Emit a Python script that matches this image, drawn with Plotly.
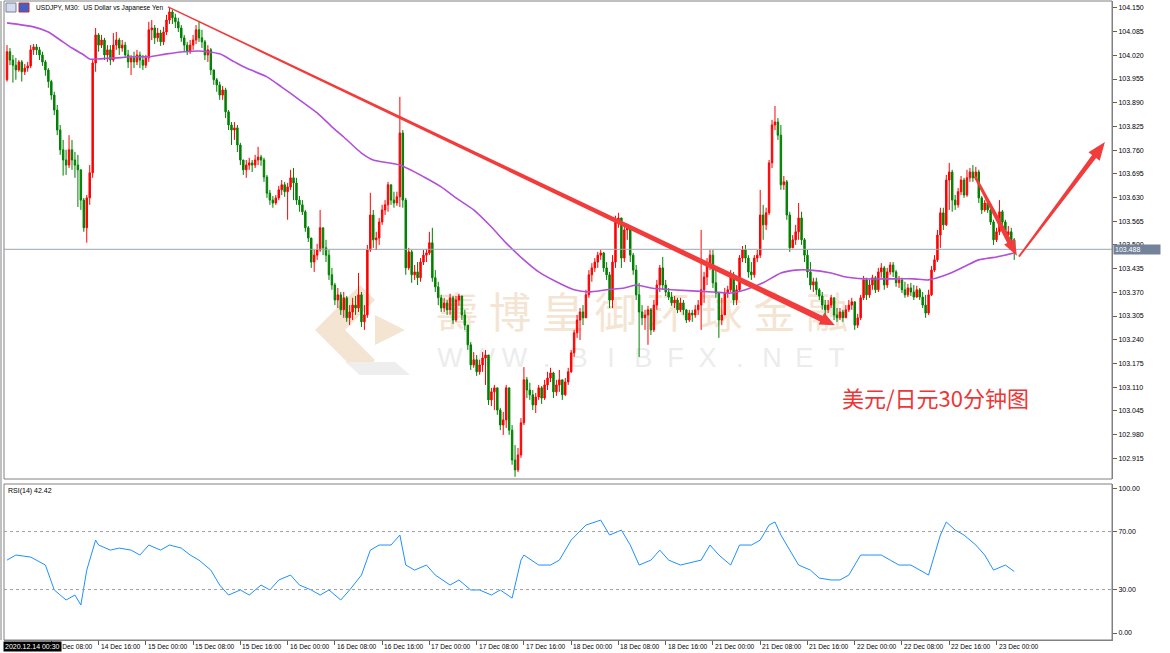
import base64
import plotly.graph_objects as go

# ---- data (USDJPY M30) ----
first_open = 103.953
closes = [
    104.030, 104.007, 103.993, 103.980, 104.002, 103.975, 103.985, 103.991, 104.035, 104.043,
    104.035, 104.021, 104.002, 103.980, 103.948, 103.911, 103.870, 103.815, 103.761, 103.733,
    103.719, 103.761, 103.733, 103.719, 103.706, 103.623, 103.547, 103.629, 103.698, 103.999,
    104.076, 104.048, 104.062, 104.021, 104.035, 104.007, 104.048, 104.062, 104.040, 104.048,
    104.021, 104.002, 104.013, 104.002, 104.021, 104.007, 103.993, 104.013, 104.090, 104.095,
    104.068, 104.081, 104.057, 104.084, 104.117, 104.139, 104.123, 104.112, 104.095, 104.068,
    104.048, 104.030, 104.048, 104.062, 104.090, 104.068, 104.057, 104.021, 104.035, 103.980,
    103.953, 103.939, 103.911, 103.925, 103.865, 103.829, 103.815, 103.821, 103.774, 103.733,
    103.706, 103.719, 103.725, 103.719, 103.733, 103.741, 103.733, 103.686, 103.642, 103.623,
    103.615, 103.629, 103.651, 103.665, 103.646, 103.659, 103.684, 103.670, 103.623, 103.610,
    103.591, 103.547, 103.519, 103.453, 103.472, 103.486, 103.547, 103.492, 103.472, 103.418,
    103.390, 103.349, 103.363, 103.322, 103.355, 103.300, 103.316, 103.335, 103.327, 103.363,
    103.289, 103.308, 103.486, 103.582, 103.514, 103.519, 103.563, 103.596, 103.610, 103.665,
    103.623, 103.615, 103.632, 103.807, 103.623, 103.437, 103.481, 103.418, 103.426, 103.410,
    103.453, 103.472, 103.478, 103.506, 103.410, 103.385, 103.355, 103.327, 103.341, 103.322,
    103.355, 103.294, 103.349, 103.360, 103.308, 103.280, 103.226, 103.171, 103.185, 103.152,
    103.171, 103.190, 103.198, 103.075, 103.097, 103.108, 103.047, 103.006, 103.020, 103.108,
    102.992, 102.910, 102.883, 102.924, 103.012, 103.130, 103.102, 103.089, 103.061, 103.083,
    103.108, 103.080, 103.116, 103.135, 103.149, 103.097, 103.116, 103.130, 103.089, 103.124,
    103.152, 103.204, 103.259, 103.294, 103.316, 103.300, 103.363, 103.418, 103.437, 103.453,
    103.472, 103.478, 103.437, 103.418, 103.349, 103.453, 103.563, 103.574, 103.464, 103.541,
    103.547, 103.472, 103.431, 103.363, 103.316, 103.300, 103.308, 103.322, 103.267, 103.335,
    103.390, 103.437, 103.390, 103.371, 103.357, 103.341, 103.349, 103.322, 103.341, 103.322,
    103.294, 103.313, 103.308, 103.322, 103.335, 103.377, 103.412, 103.450, 103.472, 103.396,
    103.368, 103.294, 103.308, 103.368, 103.377, 103.418, 103.349, 103.377, 103.464, 103.486,
    103.464, 103.426, 103.418, 103.464, 103.472, 103.582, 103.555, 103.588, 103.725, 103.829,
    103.837, 103.801, 103.665, 103.673, 103.582, 103.492, 103.514, 103.536, 103.574, 103.514,
    103.472, 103.426, 103.390, 103.399, 103.377, 103.360, 103.335, 103.322, 103.335, 103.355,
    103.308, 103.300, 103.316, 103.300, 103.322, 103.335, 103.344, 103.280, 103.300, 103.355,
    103.404, 103.363, 103.390, 103.410, 103.377, 103.426, 103.437, 103.390, 103.426, 103.445,
    103.426, 103.396, 103.404, 103.377, 103.363, 103.382, 103.371, 103.357, 103.377, 103.357,
    103.335, 103.313, 103.363, 103.431, 103.459, 103.527, 103.588, 103.555, 103.678, 103.700,
    103.623, 103.610, 103.646, 103.678, 103.637, 103.684, 103.700, 103.684, 103.700, 103.629,
    103.596, 103.615, 103.596, 103.563, 103.514, 103.536, 103.591, 103.563, 103.527, 103.536,
    103.514, 103.488,
]
highs = [
    104.048, 104.040, 104.021, 104.013, 104.007, 104.007, 103.996, 104.002, 104.048, 104.051,
    104.051, 104.043, 104.030, 104.007, 103.985, 103.953, 103.920, 103.884, 103.829, 103.788,
    103.761, 103.801, 103.788, 103.755, 103.747, 103.706, 103.629, 103.637, 103.719, 104.007,
    104.095, 104.081, 104.076, 104.068, 104.048, 104.048, 104.081, 104.084, 104.068, 104.062,
    104.057, 104.035, 104.021, 104.030, 104.035, 104.030, 104.021, 104.021, 104.112, 104.117,
    104.103, 104.095, 104.090, 104.098, 104.131, 104.150, 104.145, 104.134, 104.123, 104.103,
    104.076, 104.057, 104.062, 104.076, 104.103, 104.112, 104.090, 104.062, 104.048, 104.040,
    103.980, 103.958, 103.948, 103.936, 103.931, 103.870, 103.837, 103.837, 103.829, 103.780,
    103.733, 103.733, 103.739, 103.733, 103.747, 103.769, 103.747, 103.739, 103.692, 103.651,
    103.634, 103.637, 103.662, 103.678, 103.673, 103.670, 103.706, 103.711, 103.684, 103.634,
    103.623, 103.596, 103.552, 103.514, 103.486, 103.503, 103.596, 103.541, 103.514, 103.486,
    103.437, 103.396, 103.382, 103.371, 103.371, 103.360, 103.335, 103.355, 103.360, 103.423,
    103.371, 103.335, 103.500, 103.643, 103.596, 103.536, 103.574, 103.610, 103.623, 103.673,
    103.665, 103.646, 103.646, 103.906, 103.815, 103.629, 103.492, 103.486, 103.445, 103.453,
    103.464, 103.486, 103.489, 103.536, 103.547, 103.431, 103.399, 103.363, 103.355, 103.349,
    103.366, 103.360, 103.360, 103.366, 103.355, 103.322, 103.280, 103.234, 103.206, 103.198,
    103.185, 103.206, 103.212, 103.198, 103.108, 103.116, 103.108, 103.053, 103.042, 103.116,
    103.102, 103.006, 102.951, 102.943, 103.025, 103.165, 103.138, 103.122, 103.102, 103.094,
    103.116, 103.113, 103.130, 103.152, 103.163, 103.152, 103.130, 103.157, 103.130, 103.135,
    103.163, 103.212, 103.267, 103.308, 103.327, 103.335, 103.377, 103.431, 103.450, 103.464,
    103.481, 103.486, 103.481, 103.453, 103.426, 103.472, 103.580, 103.588, 103.574, 103.552,
    103.558, 103.547, 103.478, 103.445, 103.396, 103.335, 103.322, 103.333, 103.327, 103.349,
    103.404, 103.445, 103.467, 103.404, 103.382, 103.371, 103.360, 103.355, 103.355, 103.349,
    103.322, 103.322, 103.322, 103.335, 103.349, 103.541, 103.426, 103.464, 103.486, 103.486,
    103.431, 103.363, 103.355, 103.382, 103.388, 103.431, 103.426, 103.390, 103.472, 103.497,
    103.500, 103.472, 103.453, 103.472, 103.486, 103.651, 103.610, 103.602, 103.733, 103.843,
    103.881, 103.848, 103.829, 103.689, 103.678, 103.591, 103.527, 103.555, 103.615, 103.591,
    103.519, 103.486, 103.453, 103.410, 103.410, 103.382, 103.371, 103.349, 103.349, 103.363,
    103.355, 103.327, 103.327, 103.322, 103.335, 103.349, 103.355, 103.344, 103.311, 103.363,
    103.415, 103.410, 103.404, 103.418, 103.415, 103.437, 103.450, 103.442, 103.437, 103.453,
    103.453, 103.431, 103.415, 103.410, 103.399, 103.393, 103.396, 103.390, 103.388, 103.382,
    103.371, 103.363, 103.377, 103.442, 103.472, 103.541, 103.602, 103.602, 103.692, 103.725,
    103.706, 103.637, 103.656, 103.689, 103.684, 103.706, 103.711, 103.719, 103.714, 103.706,
    103.634, 103.623, 103.623, 103.610, 103.569, 103.547, 103.623, 103.596, 103.569, 103.552,
    103.547, 103.519,
]
lows = [
    103.948, 103.993, 103.945, 103.953, 103.975, 103.948, 103.966, 103.975, 103.985, 104.021,
    104.021, 104.007, 103.991, 103.964, 103.931, 103.898, 103.856, 103.801, 103.747, 103.690,
    103.692, 103.711, 103.706, 103.684, 103.604, 103.596, 103.536, 103.506, 103.610, 103.684,
    103.975, 104.030, 104.040, 104.007, 104.002, 103.993, 104.002, 104.035, 104.021, 104.030,
    104.013, 103.985, 103.966, 103.985, 103.993, 103.985, 103.980, 103.985, 104.002, 104.062,
    104.051, 104.057, 104.046, 104.048, 104.076, 104.106, 104.106, 104.095, 104.084, 104.057,
    104.030, 104.021, 104.024, 104.035, 104.051, 104.057, 104.040, 104.007, 104.002, 103.966,
    103.939, 103.920, 103.898, 103.898, 103.848, 103.815, 103.774, 103.788, 103.755, 103.719,
    103.692, 103.684, 103.706, 103.700, 103.711, 103.719, 103.717, 103.673, 103.629, 103.610,
    103.602, 103.610, 103.623, 103.637, 103.632, 103.569, 103.651, 103.623, 103.610, 103.591,
    103.582, 103.536, 103.508, 103.437, 103.426, 103.459, 103.481, 103.472, 103.453, 103.404,
    103.377, 103.335, 103.327, 103.308, 103.300, 103.289, 103.280, 103.294, 103.308, 103.316,
    103.275, 103.267, 103.300, 103.481, 103.492, 103.486, 103.500, 103.555, 103.582, 103.591,
    103.610, 103.602, 103.607, 103.604, 103.602, 103.418, 103.431, 103.396, 103.404, 103.390,
    103.399, 103.445, 103.453, 103.472, 103.399, 103.371, 103.335, 103.316, 103.316, 103.308,
    103.308, 103.283, 103.289, 103.333, 103.294, 103.267, 103.212, 103.157, 103.163, 103.141,
    103.144, 103.152, 103.116, 103.061, 103.058, 103.047, 103.034, 102.992, 102.979, 102.998,
    102.979, 102.897, 102.864, 102.877, 102.916, 103.006, 103.080, 103.075, 103.047, 103.039,
    103.075, 103.064, 103.075, 103.102, 103.124, 103.080, 103.086, 103.097, 103.075, 103.086,
    103.116, 103.149, 103.193, 103.245, 103.239, 103.280, 103.308, 103.355, 103.399, 103.426,
    103.437, 103.459, 103.426, 103.404, 103.327, 103.327, 103.437, 103.547, 103.437, 103.453,
    103.514, 103.453, 103.418, 103.349, 103.193, 103.280, 103.267, 103.226, 103.253, 103.261,
    103.322, 103.371, 103.377, 103.360, 103.349, 103.333, 103.327, 103.313, 103.316, 103.308,
    103.286, 103.289, 103.289, 103.300, 103.308, 103.267, 103.341, 103.390, 103.431, 103.382,
    103.355, 103.245, 103.280, 103.322, 103.355, 103.371, 103.335, 103.335, 103.371, 103.453,
    103.450, 103.410, 103.404, 103.410, 103.453, 103.464, 103.514, 103.541, 103.582, 103.711,
    103.815, 103.788, 103.651, 103.651, 103.569, 103.481, 103.492, 103.500, 103.514, 103.500,
    103.453, 103.410, 103.377, 103.371, 103.363, 103.349, 103.322, 103.308, 103.313, 103.327,
    103.294, 103.289, 103.294, 103.289, 103.300, 103.316, 103.322, 103.267, 103.272, 103.294,
    103.349, 103.349, 103.355, 103.377, 103.368, 103.371, 103.410, 103.377, 103.382, 103.418,
    103.412, 103.385, 103.382, 103.368, 103.355, 103.357, 103.360, 103.349, 103.355, 103.349,
    103.327, 103.300, 103.308, 103.360, 103.426, 103.453, 103.492, 103.541, 103.552, 103.596,
    103.591, 103.596, 103.602, 103.637, 103.629, 103.632, 103.673, 103.673, 103.678, 103.615,
    103.585, 103.591, 103.588, 103.555, 103.500, 103.508, 103.527, 103.552, 103.519, 103.514,
    103.492, 103.459,
]

# moving average (purple line), read at sample bars
ma_index = [0, 9, 14, 18, 22, 26, 28, 31, 37, 43, 48, 54, 60, 65, 68, 72, 77, 81, 88, 93,
            99, 105, 110, 114, 120, 124, 133, 141, 147, 152, 158, 164, 169, 175, 180, 186, 192, 197, 203, 209,
            213, 218, 225, 239, 245, 250, 256, 262, 267, 272, 279, 284, 290, 301, 307, 312, 318, 324, 329, 335,
            341]
ma_values = [104.109, 104.098, 104.084, 104.062, 104.040, 104.021, 104.010, 104.010, 104.013, 104.016,
             104.016, 104.024, 104.030, 104.032, 104.030, 104.024, 104.002, 103.985, 103.961, 103.933,
             103.898, 103.862, 103.824, 103.796, 103.752, 103.733, 103.719, 103.687, 103.659, 103.629,
             103.596, 103.549, 103.505, 103.459, 103.426, 103.399, 103.377, 103.371, 103.377, 103.382,
             103.390, 103.382, 103.377, 103.371, 103.368, 103.377, 103.396, 103.423, 103.431, 103.431,
             103.423, 103.412, 103.407, 103.407, 103.407, 103.404, 103.418, 103.440, 103.459, 103.467,
             103.478]

# RSI(14)
rsi_index = [0, 3, 8, 13, 16, 20, 23, 25, 27, 30, 31, 35, 38, 42, 45, 48, 52, 55, 59, 62,
             65, 69, 72, 75, 79, 82, 86, 89, 92, 96, 99, 103, 106, 109, 113, 116, 120, 123, 126, 130,
             133, 135, 138, 142, 145, 150, 153, 157, 160, 164, 167, 171, 174, 175, 180, 184, 187, 191, 196, 201,
             204, 208, 211, 214, 218, 221, 224, 228, 235, 238, 241, 245, 248, 252, 255, 258, 260, 262, 265, 268,
             272, 275, 279, 282, 285, 289, 292, 296, 299, 302, 306, 309, 312, 316, 318, 321, 324, 328, 331, 334,
             338, 341]
rsi_values = [50.3, 53.8, 52.4, 46.9, 29.7, 22.8, 26.2, 19.3, 43.4, 64.1, 60.7, 57.2, 58.6, 57.2, 53.8, 60.7, 57.2, 60.7, 58.6, 53.8,
              50.3, 43.4, 33.1, 26.2, 29.7, 26.2, 33.1, 29.7, 36.6, 40.0, 33.1, 29.7, 26.2, 29.7, 22.8, 29.7, 40.0, 57.2, 60.7, 60.7,
              67.6, 46.9, 43.4, 46.9, 40.0, 33.1, 36.6, 29.7, 29.7, 26.2, 29.7, 24.1, 50.3, 53.8, 46.9, 46.9, 50.3, 64.1, 74.5, 77.9,
              67.6, 71.0, 60.7, 46.9, 50.3, 57.2, 50.3, 46.9, 50.3, 60.7, 53.8, 46.9, 60.7, 60.7, 64.1, 74.5, 76.6, 67.6, 57.2, 46.9,
              43.4, 37.9, 36.6, 36.6, 40.0, 53.8, 53.8, 53.8, 50.3, 46.9, 46.9, 43.4, 40.0, 67.6, 76.6, 71.0, 67.6, 60.7, 53.8, 43.4,
              46.9, 42.42]

time_ticks = [15, 31, 47, 63, 79, 95, 111, 127, 143, 159, 175, 191, 207, 223, 239, 255, 271, 287, 303, 319, 335]
time_labels = ["14 Dec 08:00", "14 Dec 16:00", "15 Dec 00:00", "15 Dec 08:00", "15 Dec 16:00",
               "16 Dec 00:00", "16 Dec 08:00", "16 Dec 16:00", "17 Dec 00:00", "17 Dec 08:00",
               "17 Dec 16:00", "18 Dec 00:00", "18 Dec 08:00", "18 Dec 16:00", "21 Dec 00:00",
               "21 Dec 08:00", "21 Dec 16:00", "22 Dec 00:00", "22 Dec 08:00", "22 Dec 16:00",
               "23 Dec 00:00"]
first_time = "2020.12.14 00:30"
price_ticks = [104.150, 104.085, 104.020, 103.955, 103.890, 103.825, 103.760, 103.695, 103.630, 103.565,
               103.500, 103.435, 103.370, 103.305, 103.240, 103.175, 103.110, 103.045, 102.980, 102.915]
rsi_ticks = [0, 30, 70, 100]
last_price = 103.488
rsi_last = 42.42

# ---- layout constants ----
W, H = 1170, 653
ML, MR, MT, MB = 4, 58, 1, 13
PW, PH = W - ML - MR, H - MT - MB
x_range = [-1.02, 374.1]
price_range = [102.858, 104.169]
rsi_range = [-4.8, 102.8]
main_dom = [(640 - 479) / PH, 1.0]
rsi_dom = [0.0, (640 - 484) / PH]
px_bar = PW / (x_range[1] - x_range[0])
px_price = (main_dom[1] - main_dom[0]) * PH / (price_range[1] - price_range[0])

opens = [first_open] + closes[:-1]
highs = [max(h, o, c) for h, o, c in zip(highs, opens, closes)]
lows = [min(l, o, c) for l, o, c in zip(lows, opens, closes)]
bars = list(range(len(closes)))

FONT = "Liberation Sans"
RED = "#ff0000"
GREEN = "#008000"
ARROW = "#f23b3b"


def taper_arrow(x0, y0, x1, y1, w0, w1, head_len, head_w):
    # build a tapered arrow polygon in data units (sizes given in pixels)
    dx, dy = (x1 - x0) * px_bar, (y1 - y0) * px_price
    ln = (dx * dx + dy * dy) ** 0.5
    ux, uy = dx / ln, dy / ln
    nx, ny = -uy, ux
    bx, by = dx - ux * head_len, dy - uy * head_len
    pts = [
        (nx * w0 / 2, ny * w0 / 2),
        (bx + nx * w1 / 2, by + ny * w1 / 2),
        (bx + nx * head_w / 2, by + ny * head_w / 2),
        (dx, dy),
        (bx - nx * head_w / 2, by - ny * head_w / 2),
        (bx - nx * w1 / 2, by - ny * w1 / 2),
        (-nx * w0 / 2, -ny * w0 / 2),
    ]
    path = "M " + " L ".join(f"{x0 + px / px_bar:.4f},{y0 + py / px_price:.5f}" for px, py in pts) + " Z"
    return dict(type="path", path=path, xref="x", yref="y", fillcolor=ARROW, line=dict(width=0), layer="above")


fig = go.Figure()

fig.add_trace(go.Candlestick(
    x=bars, open=opens, high=highs, low=lows, close=closes,
    increasing=dict(line=dict(color=RED, width=1), fillcolor=RED),
    decreasing=dict(line=dict(color=GREEN, width=1), fillcolor=GREEN),
    whiskerwidth=0, showlegend=False, hoverinfo="skip",
))
fig.add_trace(go.Scatter(
    x=ma_index, y=ma_values, mode="lines", line=dict(color="#b24fd9", width=1.6, shape="spline", smoothing=0.6),
    showlegend=False, hoverinfo="skip",
))
fig.add_trace(go.Scatter(
    x=rsi_index, y=rsi_values, mode="lines", line=dict(color="#1e90ff", width=1),
    xaxis="x2", yaxis="y2", showlegend=False, hoverinfo="skip",
))

# watermark as an svg image drawn under the candles
cn_chars = "壽博皇御环球金融"
www_chars = "WWW.BIBFX.NET"
svg = ['<svg xmlns="http://www.w3.org/2000/svg" width="600" height="130" viewBox="0 0 600 130">',
       '<path d="M60 15 L15 60 L60 105 L75 90 L45 60 L75 30 Z" fill="#f4e5d3"/>',
       '<path d="M75 45 L105 60 L75 75 Z" fill="#f4e5d3"/>',
       '<path d="M45 92 L60 105 L110 105 L95 92 Z" fill="#eeeeee"/>']
for k, ch in enumerate(cn_chars):
    svg.append(f'<text x="{157 + 52.9 * k:.1f}" y="58" font-family="Noto Sans CJK SC" font-size="42" '
               f'fill="#f4e5d3" text-anchor="middle">{ch}</text>')
for k, ch in enumerate(www_chars):
    svg.append(f'<text x="{150 + 32.2 * k:.1f}" y="97" font-family="Liberation Sans" font-size="27" '
               f'fill="#ececec" text-anchor="middle">{ch}</text>')
svg.append('</svg>')
svg_uri = "data:image/svg+xml;base64," + base64.b64encode("".join(svg).encode("utf-8")).decode()
fig.add_layout_image(dict(
    source=svg_uri, xref="x", yref="y", x=(300 - 7) / px_bar, y=103.431,
    sizex=600 / px_bar, sizey=130 / px_price, xanchor="left", yanchor="top",
    sizing="stretch", layer="below",
))

shapes = []
# panel frames
shapes.append(dict(type="rect", xref="paper", yref="paper", x0=0, x1=1, y0=main_dom[0], y1=1,
                   line=dict(color="#808080", width=1)))
shapes.append(dict(type="rect", xref="paper", yref="paper", x0=0, x1=1, y0=rsi_dom[0], y1=rsi_dom[1],
                   line=dict(color="#808080", width=1)))
shapes.append(dict(type="line", xref="paper", yref="paper", x0=-3 / PW, x1=-3 / PW, y0=-0.0, y1=1,
                   line=dict(color="#808080", width=1)))
# last price line
shapes.append(dict(type="line", xref="paper", yref="y", x0=0, x1=1, y0=last_price, y1=last_price,
                   line=dict(color="#9aa4b0", width=1)))
# rsi levels
for lv in (30, 70):
    shapes.append(dict(type="line", xref="paper", yref="y2", x0=0, x1=1, y0=lv, y1=lv,
                       line=dict(color="#a0a0a0", width=1, dash="dot")))
# hand-drawn arrows
shapes.append(taper_arrow(54.5, 104.153, 280.3, 103.280, 1.2, 6, 15, 13))
shapes.append(taper_arrow(327.7, 103.688, 341.9, 103.470, 2.5, 5, 16, 12))
shapes.append(taper_arrow(342.6, 103.468, 371.7, 103.782, 1.8, 5, 18, 14))
# window icons
shapes.append(dict(type="rect", xref="paper", yref="paper", x0=2 / PW, x1=12 / PW,
                   y0=(640 - 12) / PH, y1=(640 - 3) / PH, fillcolor="#d6dceb", line=dict(color="#7080a8", width=1)))
shapes.append(dict(type="rect", xref="paper", yref="paper", x0=15 / PW, x1=25 / PW,
                   y0=(640 - 12) / PH, y1=(640 - 3) / PH, fillcolor="#4060c8", line=dict(color="#c03030", width=1)))

annotations = []
annotations.append(dict(x=30 / PW, y=(640 - 8) / PH, xref="paper", yref="paper", xanchor="left", yanchor="middle",
                        text="USDJPY, M30:  US Dollar vs Japanese Yen", showarrow=False,
                        font=dict(family=FONT, size=6.6, color="black")))
annotations.append(dict(x=2 / PW, y=(640 - 491) / PH, xref="paper", yref="paper", xanchor="left", yanchor="middle",
                        text=f"RSI(14) {rsi_last:.2f}", showarrow=False,
                        font=dict(family=FONT, size=7, color="black")))
for tv, tl in zip(time_ticks, time_labels):
    annotations.append(dict(x=tv, y=0, xref="x2", yref="paper", xanchor="left", yanchor="middle", yshift=-6,
                            xshift=1, text=tl, showarrow=False, borderpad=0,
                            font=dict(family=FONT, size=6.6, color="black")))
annotations.append(dict(x=-1 / PW, y=0, xref="paper", yref="paper", xanchor="left", yanchor="middle", yshift=-6,
                        text=first_time, showarrow=False, bgcolor="black", borderpad=1,
                        font=dict(family=FONT, size=7, color="white")))
annotations.append(dict(x=1, y=last_price, xref="paper", yref="y", xanchor="left", yanchor="middle", xshift=1,
                        text=f"{last_price:.3f}", showarrow=False, bgcolor="#73849a", borderpad=1, width=44,
                        align="left", font=dict(family=FONT, size=7, color="white")))
annotations.append(dict(x=(840 - 7) / px_bar, y=103.084, xref="x", yref="y", xanchor="left", yanchor="middle",
                        text="美元/日元30分钟图", showarrow=False,
                        font=dict(family="Noto Sans CJK SC", size=22, color="#ef3535")))

fig.update_layout(
    width=W, height=H,
    margin=dict(l=ML, r=MR, t=MT, b=MB, autoexpand=False),
    paper_bgcolor="white", plot_bgcolor="white",
    showlegend=False,
    shapes=shapes, annotations=annotations,
    xaxis=dict(domain=[0, 1], range=x_range, anchor="y", showticklabels=False, showgrid=False, automargin=False,
               zeroline=False, ticks="", rangeslider=dict(visible=False), fixedrange=True),
    xaxis2=dict(domain=[0, 1], range=x_range, anchor="y2", matches="x", showgrid=False, zeroline=False,
                automargin=False,
                tickmode="array", tickvals=time_ticks, ticks="outside", ticklen=4, tickcolor="#606060",
                showticklabels=False, showline=True, linecolor="#808080"),
    yaxis=dict(domain=main_dom, range=price_range, side="right", showgrid=False, zeroline=False,
               automargin=False,
               tickmode="array", tickvals=price_ticks, ticktext=[f"{v:.3f}" for v in price_ticks],
               ticks="outside", ticklen=4, tickcolor="#606060", showline=True, linecolor="#808080",
               tickfont=dict(family=FONT, size=7, color="black")),
    yaxis2=dict(domain=rsi_dom, range=rsi_range, side="right", showgrid=False, zeroline=False,
                automargin=False,
                tickmode="array", tickvals=rsi_ticks, ticktext=[f"{v:.2f}" for v in rsi_ticks],
                ticks="outside", ticklen=4, tickcolor="#606060", showline=True, linecolor="#808080",
                tickfont=dict(family=FONT, size=7, color="black")),
)

# the default page body has an 8px margin; remove it so the figure sits at the window corner
fig.write_html("out.html", config={"displayModeBar": False},
               post_script="document.body.style.margin='0px';")
